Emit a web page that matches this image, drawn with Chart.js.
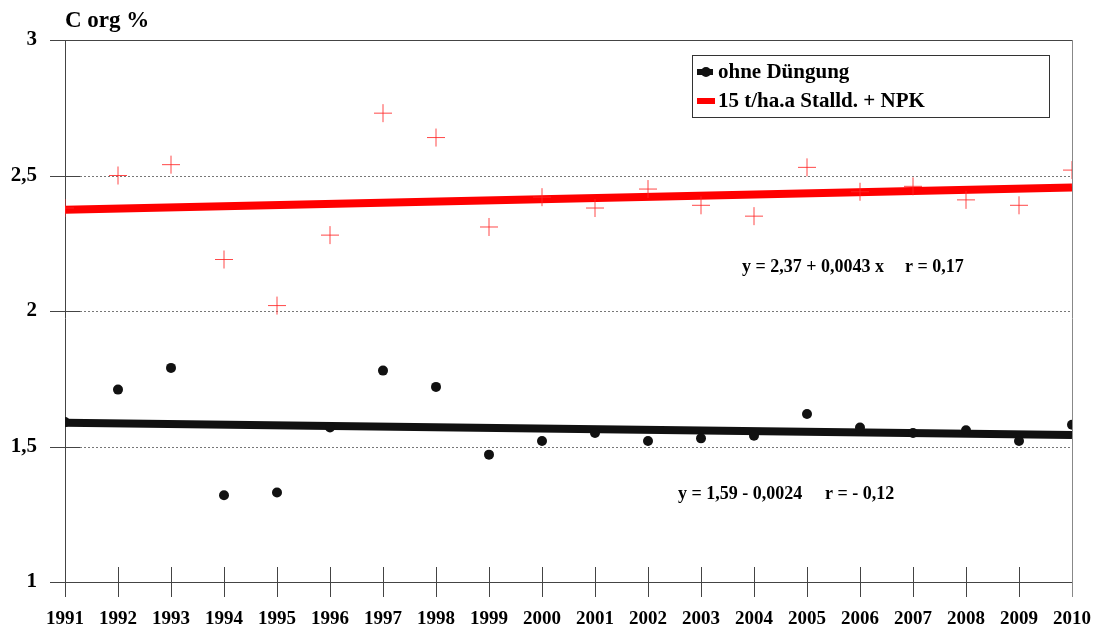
<!DOCTYPE html>
<html>
<head>
<meta charset="utf-8">
<script src="https://cdn.jsdelivr.net/npm/chart.js@4/dist/chart.umd.min.js"></script>
<style>
  html, body { margin: 0; padding: 0; background: #fff; }
  #wrap { width: 1098px; height: 630px; }
</style>
</head>
<body>
<div id="wrap"><canvas id="chart" width="1098" height="630"></canvas></div>
<script>
const years = [1991, 1992, 1993, 1994, 1995, 1996, 1997, 1998, 1999, 2000,
               2001, 2002, 2003, 2004, 2005, 2006, 2007, 2008, 2009, 2010];
const ohneDuengung = [1.59, 1.71, 1.79, 1.32, 1.33, 1.57, 1.78, 1.72, 1.47, 1.52,
                      1.55, 1.52, 1.53, 1.54, 1.62, 1.57, 1.55, 1.56, 1.52, 1.58];
const stallNpk = [2.38, 2.50, 2.54, 2.19, 2.02, 2.28, 2.73, 2.64, 2.31, 2.42,
                  2.38, 2.45, 2.39, 2.35, 2.53, 2.44, 2.46, 2.41, 2.39, 2.52];
// Trendlinien, Endpunkte 1991 / 2010
const trendYears = [1991, 2010];
const trendOhne = [1.588, 1.542];
const trendStall = [2.374, 2.456];
const yTicks = [1, 1.5, 2, 2.5, 3];
const yTickLabels = ["1", "1,5", "2", "2,5", "3"];

const serif = "'Liberation Serif', 'Times New Roman', serif";

const pts = (xs, ys) => xs.map((x, i) => ({ x: x, y: ys[i] }));

const decor = {
  id: "decor",
  beforeDatasetsDraw(chart) {
    const { ctx, chartArea: a, scales } = chart;
    const x = scales.x, y = scales.y;
    ctx.save();
    // dotted grid
    ctx.strokeStyle = "#777";
    ctx.lineWidth = 1;
    ctx.setLineDash([2, 2]);
    yTicks.slice(1, -1).forEach(v => {
      const py = Math.round(y.getPixelForValue(v)) + 0.5;
      ctx.beginPath();
      ctx.moveTo(a.left + 15, py);
      ctx.lineTo(a.right, py);
      ctx.stroke();
    });
    ctx.setLineDash([]);
    // y tick stubs
    ctx.strokeStyle = "#444";
    yTicks.forEach(v => {
      const py = Math.round(y.getPixelForValue(v)) + 0.5;
      ctx.beginPath();
      ctx.moveTo(a.left - 15, py);
      ctx.lineTo(v === 3 || v === 1 ? a.right : a.left + 15, py);
      ctx.stroke();
    });
    // x ticks
    years.forEach(yr => {
      const px = Math.round(x.getPixelForValue(yr)) + 0.5;
      ctx.beginPath();
      ctx.moveTo(px, a.bottom - 15);
      ctx.lineTo(px, a.bottom + 15);
      ctx.stroke();
    });
    // left axis and right border
    ctx.beginPath();
    ctx.moveTo(a.left + 0.5, a.top);
    ctx.lineTo(a.left + 0.5, a.bottom + 15);
    ctx.stroke();
    ctx.strokeStyle = "#888";
    ctx.beginPath();
    ctx.moveTo(a.right + 0.5, a.top);
    ctx.lineTo(a.right + 0.5, a.bottom + 15);
    ctx.stroke();
    ctx.restore();
  },
  afterDraw(chart) {
    const { ctx } = chart;
    ctx.save();
    ctx.fillStyle = "#000";
    ctx.textBaseline = "middle";
    ctx.font = "bold 23px " + serif;
    ctx.fillText("C org %", 65, 21);

    // legend box
    ctx.strokeStyle = "#333";
    ctx.lineWidth = 1;
    ctx.strokeRect(692.5, 55.5, 357, 62);
    ctx.fillStyle = "#111";
    ctx.fillRect(697, 69, 16, 6);
    ctx.beginPath();
    ctx.arc(706, 72, 5, 0, Math.PI * 2);
    ctx.fill();
    ctx.fillStyle = "#ff0000";
    ctx.fillRect(697, 98, 18, 6);
    ctx.fillStyle = "#000";
    ctx.font = "bold 21px " + serif;
    ctx.fillText("ohne Düngung", 718, 73);
    ctx.fillText("15 t/ha.a Stalld. + NPK", 718, 102);

    // equations
    ctx.font = "bold 18px " + serif;
    ctx.fillText("y = 2,37 + 0,0043 x", 742, 267);
    ctx.fillText("r = 0,17", 905, 267);
    ctx.fillText("y = 1,59 - 0,0024", 678, 494);
    ctx.fillText("r = - 0,12", 825, 494);
    ctx.restore();
  }
};

new Chart(document.getElementById("chart"), {
  type: "scatter",
  data: {
    datasets: [
      {
        label: "Trend Stalld.",
        type: "line",
        data: pts(trendYears, trendStall),
        borderColor: "#ff0000",
        borderWidth: 8,
        pointRadius: 0,
        order: 3
      },
      {
        label: "Trend ohne",
        type: "line",
        data: pts(trendYears, trendOhne),
        borderColor: "#111",
        borderWidth: 8,
        pointRadius: 0,
        order: 3
      },
      {
        label: "15 t/ha.a Stalld. + NPK",
        data: pts(years, stallNpk),
        pointStyle: "cross",
        pointRadius: 9,
        borderColor: "rgba(255,40,40,0.85)",
        borderWidth: 1,
        order: 1
      },
      {
        label: "ohne Düngung",
        data: pts(years, ohneDuengung),
        pointStyle: "circle",
        pointRadius: 5,
        backgroundColor: "#111",
        borderColor: "#111",
        borderWidth: 0,
        order: 2
      }
    ]
  },
  options: {
    responsive: false,
    animation: false,
    layout: { padding: { top: 40, right: 26, left: 0, bottom: 0 } },
    plugins: {
      legend: { display: false },
      tooltip: { enabled: false }
    },
    scales: {
      x: {
        type: "linear",
        min: 1991,
        max: 2010,
        grid: { display: false },
        border: { display: false },
        afterFit: s => { s.height = 48; s.paddingLeft = 0; s.paddingRight = 0; },
        afterBuildTicks: s => { s.ticks = years.map(v => ({ value: v })); },
        ticks: {
          padding: 18,
          color: "#000",
          font: { family: serif, size: 19, weight: "bold" },
          callback: v => String(v)
        }
      },
      y: {
        min: 1,
        max: 3,
        grid: { display: false },
        border: { display: false },
        afterFit: s => { s.width = 65; s.paddingTop = 0; s.paddingBottom = 0; },
        afterBuildTicks: s => { s.ticks = yTicks.map(v => ({ value: v })); },
        ticks: {
          padding: 20,
          color: "#000",
          font: { family: serif, size: 21, weight: "bold" },
          callback: v => yTickLabels[yTicks.indexOf(v)]
        }
      }
    }
  },
  plugins: [decor]
});
</script>
</body>
</html>
